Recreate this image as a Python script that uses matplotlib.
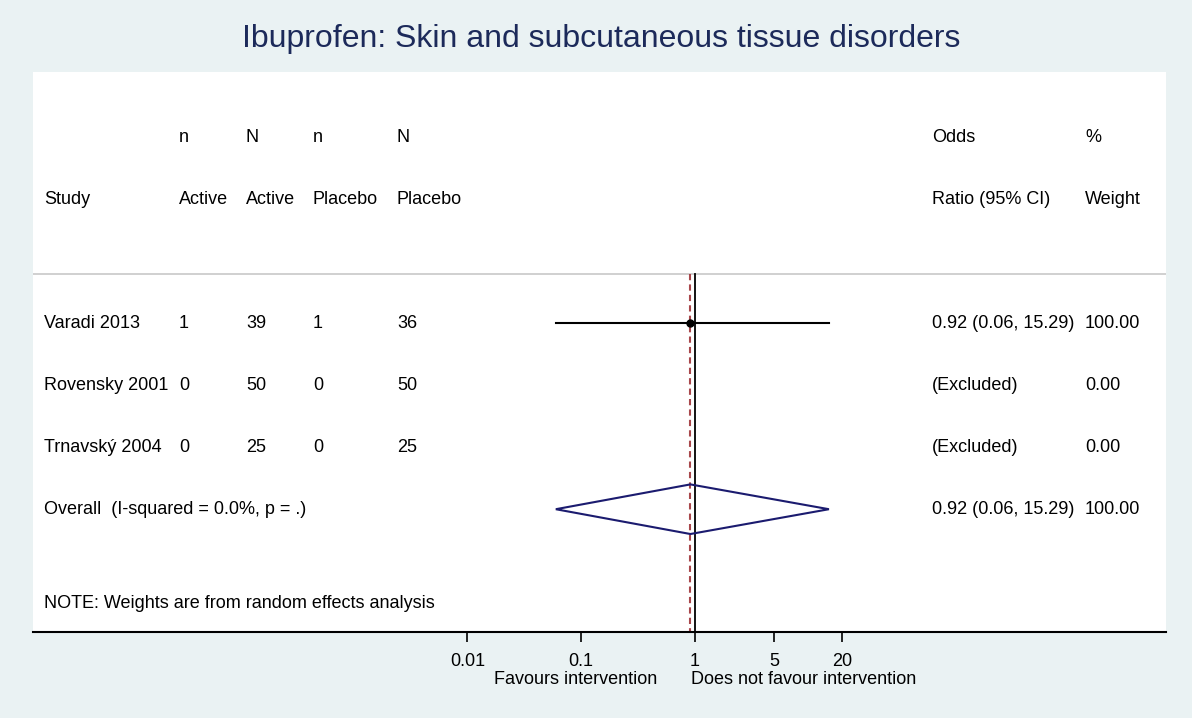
import numpy as np
import matplotlib.pyplot as plt
from matplotlib.patches import Polygon
import matplotlib.transforms as mtransforms

plt.rcParams['font.family'] = ['Liberation Sans', 'DejaVu Sans']

# ==========================================
# DATA
# ==========================================
studies = ["Varadi 2013", "Rovensky 2001", "Trnavský 2004"]
n_active = [1, 0, 0]
N_active = [39, 50, 25]
n_placebo = [1, 0, 0]
N_placebo = [36, 50, 25]
odds_ratio = [0.92, np.nan, np.nan]
ci_low = [0.06, np.nan, np.nan]
ci_high = [15.29, np.nan, np.nan]
weights = [100.00, 0.00, 0.00]

overall_label = "Overall  (I-squared = 0.0%, p = .)"
overall_or = 0.92
overall_low = 0.06
overall_high = 15.29
overall_weight = 100.00

tick_values = [0.01, 0.1, 1, 5, 20]
tick_labels = ["0.01", "0.1", "1", "5", "20"]

BG = '#EAF2F3'
NAVY = '#1B1B6F'
TITLE_COL = '#1C2A5A'
FS = 13

# ==========================================
# FIGURE
# ==========================================
fig = plt.figure(figsize=(11.92, 7.18), dpi=100, facecolor=BG)
W, H = 1192, 718
ax = fig.add_axes([33 / W, 1 - 632 / H, (1166 - 33) / W, (632 - 72) / H])
ax.set_facecolor('white')

ax.set_xscale('log')
ax.set_xlim(10 ** -5.828, 10 ** 4.154)
ax.set_ylim(5.98, -3.05)

for s in ['top', 'left', 'right']:
    ax.spines[s].set_visible(False)
ax.spines['bottom'].set_linewidth(1.5)
ax.set_yticks([])
ax.set_xticks(tick_values)
ax.set_xticklabels(tick_labels, fontsize=FS)
ax.xaxis.set_minor_locator(plt.NullLocator())
ax.tick_params(axis='x', length=7, width=1.2, pad=8)

# text columns: x in axes fraction, y in data rows
tr = mtransforms.blended_transform_factory(ax.transAxes, ax.transData)
def colx(px):
    return (px - 33) / (1166 - 33)

col_study, col_na, col_Na, col_np, col_Np = colx(44), colx(179), colx(246), colx(313), colx(397)
col_or, col_w = colx(932), colx(1085)

head1 = [(col_na, "n"), (col_Na, "N"), (col_np, "n"), (col_Np, "N"), (col_or, "Odds"), (col_w, "%")]
head2 = [(col_study, "Study"), (col_na, "Active"), (col_Na, "Active"), (col_np, "Placebo"),
         (col_Np, "Placebo"), (col_or, "Ratio (95% CI)"), (col_w, "Weight")]
for x, t in head1:
    ax.text(x, -2.0, t, transform=tr, fontsize=FS, va='center')
for x, t in head2:
    ax.text(x, -1.0, t, transform=tr, fontsize=FS, va='center')

sep_y = 0.21
ax.axhline(sep_y, color='#C8C8C8', linewidth=1.2)

rows = np.arange(1, len(studies) + 1)
for i, r in enumerate(rows):
    ax.text(col_study, r, studies[i], transform=tr, fontsize=FS, va='center')
    ax.text(col_na, r, str(n_active[i]), transform=tr, fontsize=FS, va='center')
    ax.text(col_Na, r, str(N_active[i]), transform=tr, fontsize=FS, va='center')
    ax.text(col_np, r, str(n_placebo[i]), transform=tr, fontsize=FS, va='center')
    ax.text(col_Np, r, str(N_placebo[i]), transform=tr, fontsize=FS, va='center')
    if np.isnan(odds_ratio[i]):
        or_txt = "(Excluded)"
    else:
        or_txt = f"{odds_ratio[i]:.2f} ({ci_low[i]:.2f}, {ci_high[i]:.2f})"
        ax.plot([ci_low[i], ci_high[i]], [r, r], color='black', linewidth=1.5, zorder=3)
        ax.plot(odds_ratio[i], r, 'o', color='black', markersize=5, zorder=4)
    ax.text(col_or, r, or_txt, transform=tr, fontsize=FS, va='center')
    ax.text(col_w, r, f"{weights[i]:.2f}", transform=tr, fontsize=FS, va='center')

# overall row
r_all = len(studies) + 1
ax.text(col_study, r_all, overall_label, transform=tr, fontsize=FS, va='center')
ax.text(col_or, r_all, f"{overall_or:.2f} ({overall_low:.2f}, {overall_high:.2f})",
        transform=tr, fontsize=FS, va='center')
ax.text(col_w, r_all, f"{overall_weight:.2f}", transform=tr, fontsize=FS, va='center')
dh = 0.4
diamond = Polygon([(overall_low, r_all), (overall_or, r_all - dh), (overall_high, r_all),
                   (overall_or, r_all + dh)], closed=True, fill=False,
                  edgecolor=NAVY, linewidth=1.5, zorder=3)
ax.add_patch(diamond)

# reference lines
ax.plot([1, 1], [sep_y, 5.98], color='black', linewidth=1.3, zorder=2, clip_on=False)
ax.plot([overall_or, overall_or], [sep_y, 5.98], color='#A8474B', linewidth=1.5,
        linestyle=(0, (3, 2)), zorder=2)

ax.text(col_study, 5.52, "NOTE: Weights are from random effects analysis", transform=tr,
        fontsize=FS, va='center')

# favours labels
ax.annotate("Favours intervention", xy=(1, 0), xycoords=('data', 'axes fraction'),
            xytext=(-27, -34), textcoords='offset points', ha='right', va='center', fontsize=FS)
ax.annotate("Does not favour intervention", xy=(1, 0), xycoords=('data', 'axes fraction'),
            xytext=(-2.5, -34), textcoords='offset points', ha='left', va='center', fontsize=FS)

fig.text(601 / W, 1 - 47 / H, "Ibuprofen: Skin and subcutaneous tissue disorders",
         ha='center', va='baseline', fontsize=23, color=TITLE_COL)

fig.savefig("out.png", dpi=100, facecolor=BG)
